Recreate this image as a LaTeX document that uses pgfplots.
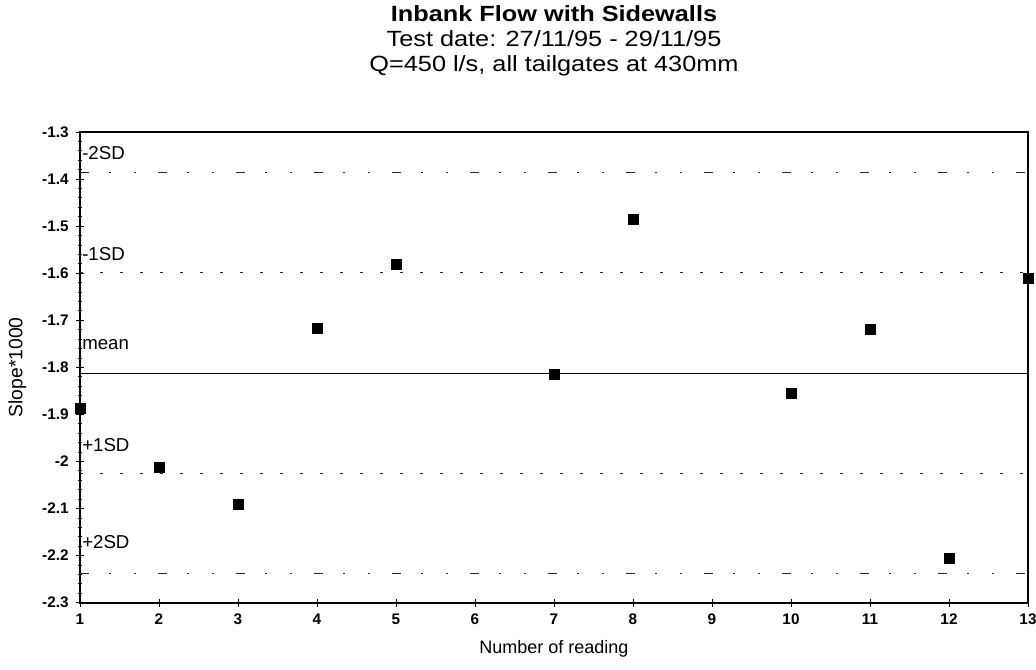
\documentclass[border=0pt]{standalone}
\usepackage{fontspec}
\setmainfont{Liberation Sans}
\usepackage{graphicx}
\usepackage{pgfplots}
\pgfplotsset{compat=1.18}

% readings of slope*1000
\pgfplotstableread{
x y
1 -1.886
2 -2.012
3 -2.092
4 -1.718
5 -1.581
7 -1.814
8 -1.485
10 -1.855
11 -1.720
12 -2.205
13 -1.610
}\readings

\def\meanval{-1.812}
\newcommand\wide[1]{\scalebox{1.15}[1]{#1}}

\begin{document}
\begin{tikzpicture}
\begin{axis}[
  scale only axis,
  width=711pt, height=353pt,
  xmin=1, xmax=13, ymin=-2.3, ymax=-1.3,
  xtick={1,2,3,4,5,6,7,8,9,10,11,12,13},
  ytick={-2.3,-2.2,-2.1,-2,-1.9,-1.8,-1.7,-1.6,-1.5,-1.4,-1.3},
  yticklabels={-2.3,-2.2,-2.1,-2,-1.9,-1.8,-1.7,-1.6,-1.5,-1.4,-1.3},
  minor y tick num=4,
  tick align=center,
  xtick pos=bottom, ytick pos=left,
  major tick length=6pt, minor tick length=3.5pt,
  axis line style={line width=1.3pt},
  every tick/.style={black, line width=0.6pt},
  tick label style={font=\fontsize{11.5}{13}\selectfont\bfseries},
  xticklabel style={yshift=-2pt},
  yticklabel style={xshift=-2pt},
  /pgf/number format/assume math mode=true,
  title={\wide{\bfseries Inbank Flow with Sidewalls}\\\wide{Test date: 27/11/95 - 29/11/95}\\\wide{Q=450 l/s, all tailgates at 430mm}},
  title style={font=\fontsize{16.5}{18.5}\selectfont, align=center,
    at={(axis description cs:0.5,1)}, anchor=south, inner sep=0pt, yshift=36pt},
  xlabel={Number of reading},
  ylabel={Slope*1000},
  xlabel style={font=\fontsize{13.5}{15}\selectfont,
    at={(axis description cs:0.5,-0.098)}, anchor=center},
  ylabel style={font=\fontsize{14.5}{16}\selectfont,
    at={(axis description cs:-0.066,0.5)}, anchor=center},
  clip=false,
]
% mean and standard-deviation bands
\addplot[black, line width=0.6pt] coordinates {(1,\meanval) (13,\meanval)};
\addplot[black!85, line width=0.7pt, dash pattern=on 2pt off 13pt]
  coordinates {(1,-1.599) (13,-1.599)};
\addplot[black!85, line width=0.7pt, dash pattern=on 2pt off 13pt]
  coordinates {(1,-2.025) (13,-2.025)};
\addplot[black!85, line width=0.7pt,
  dash pattern=on 7pt off 15pt on 1.5pt off 17pt on 1.5pt off 16.5pt]
  coordinates {(1,-1.386) (13,-1.386)};
\addplot[black!85, line width=0.7pt,
  dash pattern=on 7pt off 15pt on 1.5pt off 17pt on 1.5pt off 16.5pt]
  coordinates {(1,-2.238) (13,-2.238)};

\addplot[only marks, mark=square*, mark size=3.75pt, black] table[x=x, y=y] {\readings};

\begin{scope}[every node/.style={anchor=west, inner sep=1.5pt, font=\fontsize{14}{16}\selectfont}]
\node at (axis cs:1,-1.345) {-2SD};
\node at (axis cs:1,-1.560) {-1SD};
\node at (axis cs:1,-1.752) {mean};
\node at (axis cs:1,-1.965) {+1SD};
\node at (axis cs:1,-2.172) {+2SD};
\end{scope}
\end{axis}
\pgfresetboundingbox
\path (current axis.south west) ++(-60pt,-50pt) rectangle ++(777pt,502pt);
\end{tikzpicture}
\end{document}
